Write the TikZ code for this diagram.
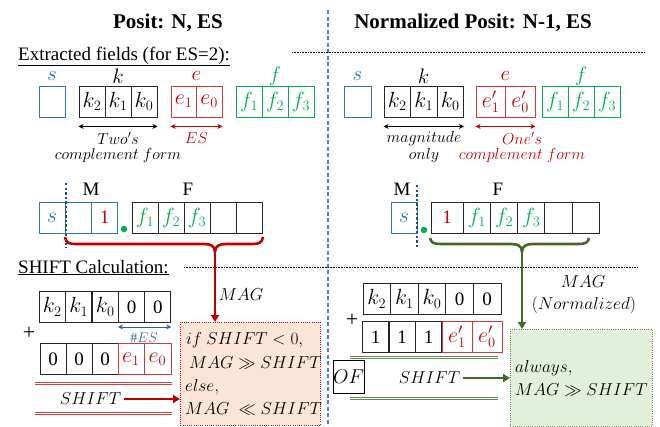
\documentclass[tikz,border=0pt]{standalone}
\usepackage{fontspec}
\setmainfont{Liberation Serif}
\usetikzlibrary{arrows.meta}
% scalable math italic and symbols at any size
\DeclareFontShape{OML}{cmm}{m}{it}{<->cmmi12}{}
\DeclareFontShape{OMS}{cmsy}{m}{n}{<->cmsy10}{}

\definecolor{fblue}{HTML}{2E75B6}
\definecolor{fred}{HTML}{C00000}
\definecolor{ebox}{HTML}{D93636}
\definecolor{fgreen}{HTML}{00B050}
\definecolor{dgreen}{HTML}{3F6B25}
\definecolor{dblue}{HTML}{1F4E79}
\definecolor{divblue}{HTML}{4A7EDC}
\definecolor{pinkfill}{HTML}{FBE5D6}
\definecolor{greenfill}{HTML}{E2EFDA}
\definecolor{esblue}{HTML}{2E5E8E}

\tikzset{
  title/.style={font=\fontsize{21}{24}\selectfont\bfseries, inner sep=0pt},
  heading/.style={font=\fontsize{19}{22}\selectfont, inner sep=0pt},
  lbl/.style={font=\fontsize{21}{24}\selectfont, inner sep=0pt},
  mlbl/.style={font=\fontsize{19}{22}\selectfont, inner sep=0pt},
  note/.style={font=\fontsize{16}{18}\selectfont, inner sep=0pt},
  mathtxt/.style={font=\fontsize{17.3}{20}\selectfont, inner sep=0pt},
  cell/.style={draw, line width=0.9pt, minimum height=31pt, minimum width=26pt,
    inner sep=0pt, font=\fontsize{22}{24}\selectfont},
  kcell/.style={cell, draw=black!85},
  bcell/.style={cell, draw=fblue},
  rcell/.style={cell, draw=ebox, text=fred},
  gcell/.style={cell, draw=fgreen, text=fgreen},
  ncell/.style={cell, draw=black!85},
  digit/.style={font=\fontsize{19}{21}\selectfont},
  dblarrow/.style={line width=1pt, {Stealth[length=5pt,width=5pt]}-{Stealth[length=5pt,width=5pt]}},
  divider/.style={draw=divblue, line width=1.6pt, dash pattern=on 4pt off 2.5pt},
  sepline/.style={line width=0.6pt, dash pattern=on 0.8pt off 0.8pt},
  vdots/.style={draw=dblue, line width=2.4pt, dash pattern=on 2.4pt off 2.2pt},
  gdot/.style={circle, fill=fgreen, inner sep=0pt, minimum size=6.5pt},
  bracered/.style={draw=fred, line width=2.6pt},
  bracegreen/.style={draw=dgreen, line width=2.6pt},
  bigarrow/.style={line width=2.6pt, -{Triangle[length=7pt,width=8pt]}},
  sumline/.style={line width=0.8pt},
  pinkbox/.style={draw=fred, fill=pinkfill, line width=0.9pt, dash pattern=on 1pt off 1.2pt},
  greenbox/.style={draw=dgreen!80, fill=greenfill, line width=0.9pt, dash pattern=on 1pt off 1.2pt},
}

\begin{document}
\begin{tikzpicture}[x=1pt,y=-1pt]
\useasboundingbox (0,0) rectangle (660,426);

% ---------- titles and separators ----------
\node[title] (t1) at (168,23) {Posit: N, ES};
\node[title] (t2) at (473,23) {Normalized Posit: N-1, ES};

\coordinate (dtop) at (328,10);
\coordinate (dbot) at (328,426);
\draw[divider] (dtop) -- (dbot);

\node[heading, anchor=base west] (h1) at (18,60) {\underline{Extracted fields (for ES=2):}};
\coordinate (s1a) at (292,52);
\coordinate (s1b) at (645,52);
\draw[sepline] (s1a) -- (s1b);

\node[heading, anchor=base west] (h2) at (18,273) {\underline{SHIFT Calculation:}};
\coordinate (s2a) at (184,267);
\coordinate (s2b) at (638,267);
\draw[sepline] (s2a) -- (s2b);

% ---------- left: extracted fields ----------
\node[lbl, text=fblue] (lsl) at (52,76) {$s$};
\node[lbl] (lkl) at (118,76) {$k$};
\node[lbl, text=fred] (lel) at (196.5,76) {$e$};
\node[lbl, text=fgreen] (lfl) at (275,76) {$f$};

\node[bcell] (ls) at (52,101.5) {};
\node[kcell] (lk2) at (92,101.5) {$k_2$};
\node[kcell] (lk1) at (118,101.5) {$k_1$};
\node[kcell] (lk0) at (144,101.5) {$k_0$};
\node[rcell, minimum width=25.5pt] (le1) at (183.75,101.5) {$e_1$};
\node[rcell, minimum width=25.5pt] (le0) at (209.25,101.5) {$e_0$};
\node[gcell] (lf1) at (249,101.5) {$f_1$};
\node[gcell] (lf2) at (275,101.5) {$f_2$};
\node[gcell] (lf3) at (301,101.5) {$f_3$};

\draw[dblarrow] ([yshift=-9pt]lk2.south west) -- ([yshift=-9pt]lk0.south east);
\draw[dblarrow, fred] ([yshift=-9pt]le1.south west) -- ([yshift=-9pt]le0.south east);
\node[note] (ltwo) at (118,138) {$Two's$};
\node[note] (lcomp) at (118,155) {$complement\ form$};
\node[note, text=fred] (les) at (196.5,138) {$ES$};

% ---------- left: M and F ----------
\node[mlbl] (lml) at (91,189) {M};
\node[mlbl] (lfl2) at (188,189) {F};
\node[bcell, text=fblue] (lm0) at (52,217.5) {$s$};
\node[bcell] (lm1) at (78.5,217.5) {};
\node[bcell, text=fred, digit] (lm2) at (104.5,217.5) {1};
\node[gdot] (ldot) at (124,229) {};
\node[kcell, text=fgreen] (lF1) at (145,217.5) {$f_1$};
\node[kcell, text=fgreen] (lF2) at (171,217.5) {$f_2$};
\node[kcell, text=fgreen] (lF3) at (197,217.5) {$f_3$};
\node[kcell] (lF4) at (223,217.5) {};
\node[kcell] (lF5) at (249,217.5) {};
\coordinate (lv1) at (66,183);
\coordinate (lv2) at (66,248);
\draw[vdots] (lv1) -- (lv2);

% red brace under the magnitude
\draw[bracered] (65,237) .. controls (66,243) and (69,244) .. (76,244) -- (204,244)
  .. controls (211,244) and (215,246) .. (215,252);
\draw[bracered] (215,252) .. controls (215,246) and (219,244) .. (226,244) -- (252,244)
  .. controls (259,244) and (262,243) .. (263,237);
\coordinate (rbr) at (215,250);

% ---------- left: SHIFT calculation ----------
\node[ncell] (la1) at (52.25,307) {$k_2$};
\node[ncell] (la2) at (78.75,307) {$k_1$};
\node[ncell] (la3) at (105.25,307) {$k_0$};
\node[ncell, digit] (la4) at (131.5,307) {0};
\node[ncell, digit] (la5) at (157.75,307) {0};
\node[lbl, font=\fontsize{22}{24}\selectfont] (lplus) at (29,333) {+};
\draw[dblarrow, esblue, line width=0.9pt] ([yshift=-4pt]la4.south west) -- ([yshift=-4pt]la5.south east);
\node[note, text=esblue, font=\fontsize{14}{16}\selectfont] (lnes) at (144,337.5) {$\#ES$};
\node[ncell, digit] (lb1) at (53,359) {0};
\node[ncell, digit] (lb2) at (79,359) {0};
\node[ncell, digit] (lb3) at (105,359) {0};
\node[rcell] (lb4) at (131,359) {$e_1$};
\node[rcell, minimum width=27pt] (lb5) at (157.5,359) {$e_0$};
\coordinate (lsum1a) at (35,382);
\coordinate (lsum1b) at (172,382);
\draw[sumline, fred!75] (lsum1a) -- (lsum1b);
\draw[sumline, fred!75] ([yshift=-2.6pt]lsum1a) -- ([yshift=-2.6pt]lsum1b);
\coordinate (lsum2a) at (35,412);
\coordinate (lsum2b) at (172,412);
\draw[sumline, fred!75] (lsum2a) -- (lsum2b);
\draw[sumline, fred!75] ([yshift=-2.6pt]lsum2a) -- ([yshift=-2.6pt]lsum2b);

\node[pinkbox, anchor=north west, minimum width=140pt, minimum height=103pt] (pb) at (180,322) {};
\node[mathtxt, anchor=base west] (p1) at (186,344) {$if\ SHIFT<0,$};
\node[mathtxt, anchor=base west] (p2) at (189,368) {$MAG\gg SHIFT$};
\node[mathtxt, anchor=base west] (p3) at (185,391) {$else,$};
\node[mathtxt, anchor=base west] (p4) at (185,414) {$MAG\ \ll SHIFT$};

\node[mathtxt] (lmag) at (241,295) {$MAG$};
\draw[bigarrow, fred] (rbr) -- (rbr |- pb.north);
\node[mathtxt, inner sep=3pt] (lshift) at (90.5,399) {$SHIFT$};
\draw[bigarrow, fred] (lshift.east) -- (lshift.east -| pb.west);

% ---------- right: extracted fields ----------
\node[lbl, text=fblue] (rsl) at (357.5,76) {$s$};
\node[lbl] (rkl) at (423.5,76) {$k$};
\node[lbl, text=fred] (rel) at (505.5,76) {$e$};
\node[lbl, text=fgreen] (rfl) at (581,76) {$f$};

\node[bcell, minimum width=27pt] (rs) at (357.5,101.5) {};
\node[kcell, minimum width=26.5pt] (rk2) at (397.25,101.5) {$k_2$};
\node[kcell, minimum width=26.5pt] (rk1) at (423.75,101.5) {$k_1$};
\node[kcell, minimum width=26.5pt] (rk0) at (450.25,101.5) {$k_0$};
\node[rcell, minimum width=29.5pt] (re1) at (490.75,101.5) {$e'_1$};
\node[rcell, minimum width=29.5pt] (re0) at (520.25,101.5) {$e'_0$};
\node[gcell] (rf1) at (555,101.5) {$f_1$};
\node[gcell] (rf2) at (581,101.5) {$f_2$};
\node[gcell] (rf3) at (607,101.5) {$f_3$};

\draw[dblarrow] ([yshift=-9pt]rk2.south west) -- ([yshift=-9pt]rk0.south east);
\draw[dblarrow, fred] ([yshift=-9pt]re1.south west) -- ([yshift=-9pt]re0.south east);
\node[note] (rmagn) at (424,138) {$magnitude$};
\node[note] (ronly) at (424,155) {$only$};
\node[note, text=fred] (rone) at (522,138) {$One's$};
\node[note, text=fred] (rcomp) at (522,155) {$complement\ form$};

% ---------- right: M and F ----------
\node[mlbl] (rml) at (402,189) {M};
\node[mlbl] (rfl2) at (498,189) {F};
\node[bcell, text=fblue] (rm0) at (404,217.5) {$s$};
\node[gdot] (rdot) at (424,230) {};
\node[kcell, text=fred, minimum width=32.3pt, digit] (rF0) at (447.15,217.5) {1};
\node[kcell, text=fgreen, minimum width=27.2pt] (rF1) at (476.9,217.5) {$f_1$};
\node[kcell, text=fgreen, minimum width=27.2pt] (rF2) at (504.1,217.5) {$f_2$};
\node[kcell, text=fgreen, minimum width=27.2pt] (rF3) at (531.3,217.5) {$f_3$};
\node[kcell, minimum width=27.2pt] (rF4) at (558.5,217.5) {};
\node[kcell, minimum width=27.2pt] (rF5) at (585.7,217.5) {};
\coordinate (rv1) at (417,185);
\coordinate (rv2) at (417,248);
\draw[vdots] (rv1) -- (rv2);

% green brace under the normalized magnitude
\draw[bracegreen] (430,238) .. controls (431,243) and (434,244) .. (441,244) -- (511,244)
  .. controls (518,244) and (522,246) .. (522,252);
\draw[bracegreen] (522,252) .. controls (522,246) and (526,244) .. (533,244) -- (578,244)
  .. controls (585,244) and (588,243) .. (589,238);
\coordinate (gbr) at (522,250);

% ---------- right: SHIFT calculation ----------
\node[ncell, minimum width=27.6pt] (ra1) at (376.8,299) {$k_2$};
\node[ncell, minimum width=27.6pt] (ra2) at (404.4,299) {$k_1$};
\node[ncell, minimum width=27.6pt] (ra3) at (432,299) {$k_0$};
\node[ncell, minimum width=27.6pt, digit] (ra4) at (459.6,299) {0};
\node[ncell, minimum width=27.6pt, digit] (ra5) at (487.2,299) {0};
\node[lbl, font=\fontsize{22}{24}\selectfont] (rplus) at (352,320) {+};
\node[ncell, digit] (rb1) at (375.5,337) {1};
\node[ncell, digit] (rb2) at (402,337) {1};
\node[ncell, digit] (rb3) at (428.5,337) {1};
\node[rcell, minimum width=30pt] (rb4) at (457,337) {$e'_1$};
\node[rcell, minimum width=30pt] (rb5) at (487,337) {$e'_0$};
\coordinate (rsum1a) at (350,356);
\coordinate (rsum1b) at (498,356);
\draw[sumline, dgreen!80] (rsum1a) -- (rsum1b);
\draw[sumline, dgreen!80] ([yshift=-2.6pt]rsum1a) -- ([yshift=-2.6pt]rsum1b);
\coordinate (rsum2a) at (350,397);
\coordinate (rsum2b) at (498,397);
\draw[sumline, dgreen!80] (rsum2a) -- (rsum2b);
\draw[sumline, dgreen!80] ([yshift=-2.6pt]rsum2a) -- ([yshift=-2.6pt]rsum2b);
\node[draw, line width=0.9pt, minimum width=29pt, minimum height=33pt, inner sep=0pt,
  font=\fontsize{20}{22}\selectfont] (rof) at (348.5,376.5) {$OF$};

\node[greenbox, anchor=north west, minimum width=142pt, minimum height=97pt] (gb) at (510,329) {};
\node[mathtxt, anchor=base west] (g1) at (515,372) {$always,$};
\node[mathtxt, anchor=base west] (g2) at (515,395) {$MAG\gg SHIFT$};

\node[mathtxt] (rmag) at (583,282) {$MAG$};
\node[mathtxt] (rnorm) at (584,305) {$(Normalized)$};
\draw[bigarrow, dgreen] (gbr) -- (gbr |- gb.north);
\node[mathtxt, inner sep=3pt] (rshift) at (429.5,378) {$SHIFT$};
\draw[bigarrow, dgreen] (rshift.east) -- (rshift.east -| gb.west);
\end{tikzpicture}
\end{document}
